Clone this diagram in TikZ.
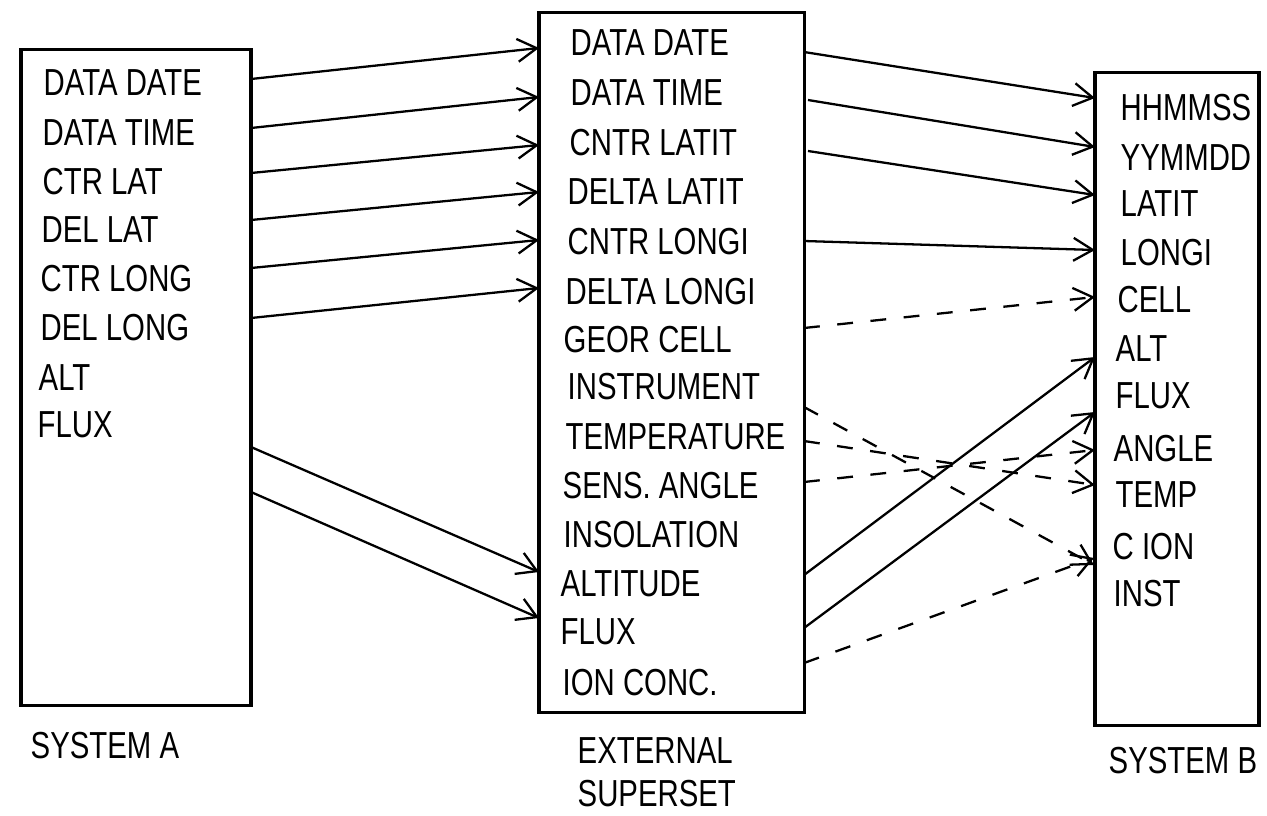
\documentclass[tikz,border=0pt]{standalone}
\usepackage{fontspec}
\setmainfont[FakeStretch=0.78]{Liberation Sans}
\usetikzlibrary{arrows.meta}
\begin{document}
\begin{tikzpicture}[x=0.01cm,y=-0.01cm,
  font=\fontsize{10.7}{12}\selectfont,
  lbl/.style={anchor=base west, inner sep=0pt},
  box/.style={draw, line width=0.9pt, inner sep=0pt},
  link/.style={line width=0.65pt, -{Straight Barb[length=5.5pt,width=6.5pt,line width=0.65pt]}},
  dlink/.style={link, dash pattern=on 4.5pt off 5pt}]
\useasboundingbox (0,0) rectangle (1267,815);

% boxes
\node[box, minimum width=2.30cm, minimum height=6.55cm] (sysA) at (136,377.5) {};
\node[box, minimum width=2.65cm, minimum height=6.99cm] (ext) at (671.5,362.5) {};
\node[box, minimum width=1.64cm, minimum height=6.52cm] (sysB) at (1177,399) {};

% System A rows
\node[lbl] (a1) at (43,95.5) {DATA DATE};
\node[lbl] (a2) at (42,145.5) {DATA TIME};
\node[lbl] (a3) at (42,194.5) {CTR LAT};
\node[lbl] (a4) at (41,242.5) {DEL LAT};
\node[lbl] (a5) at (40,291.5) {CTR LONG};
\node[lbl] (a6) at (40,340.5) {DEL LONG};
\node[lbl] (a7) at (38,390.5) {ALT};
\node[lbl] (a8) at (37,437.5) {FLUX};

% External superset rows
\node[lbl] (e1) at (570,55.5) {DATA DATE};
\node[lbl] (e2) at (570,105.5) {DATA TIME};
\node[lbl] (e3) at (569,155.5) {CNTR LATIT};
\node[lbl] (e4) at (567,204.5) {DELTA LATIT};
\node[lbl] (e5) at (567,254.5) {CNTR LONGI};
\node[lbl] (e6) at (565,304.5) {DELTA LONGI};
\node[lbl] (e7) at (563,352.5) {GEOR CELL};
\node[lbl] (e8) at (567,399.5) {INSTRUMENT};
\node[lbl] (e9) at (565,449.5) {TEMPERATURE};
\node[lbl] (e10) at (562,498.5) {SENS. ANGLE};
\node[lbl] (e11) at (563,547.5) {INSOLATION};
\node[lbl] (e12) at (560,596.5) {ALTITUDE};
\node[lbl] (e13) at (560,644.5) {FLUX};
\node[lbl] (e14) at (562,695.5) {ION CONC.};

% System B rows
\node[lbl] (b1) at (1120,120.5) {HHMMSS};
\node[lbl] (b2) at (1120,170.5) {YYMMDD};
\node[lbl] (b3) at (1120,216.5) {LATIT};
\node[lbl] (b4) at (1120,265.5) {LONGI};
\node[lbl] (b5) at (1117,312.5) {CELL};
\node[lbl] (b6) at (1115,361.5) {ALT};
\node[lbl] (b7) at (1115,408.5) {FLUX};
\node[lbl] (b8) at (1113,461.5) {ANGLE};
\node[lbl] (b9) at (1115,507.5) {TEMP};
\node[lbl] (b10) at (1112,559.5) {C ION};
\node[lbl] (b11) at (1113,606.5) {INST};

% captions
\node[lbl] (capA) at (30,758.5) {SYSTEM A};
\node[lbl] (capE1) at (577,763.5) {EXTERNAL};
\node[lbl] (capE2) at (577,806.5) {SUPERSET};
\node[lbl] (capB) at (1108,773.5) {SYSTEM B};

% connector end points
\coordinate (pa1) at (251,79);  \coordinate (qe1) at (539,48);
\coordinate (pa2) at (251,128); \coordinate (qe2) at (539,97);
\coordinate (pa3) at (251,173); \coordinate (qe3) at (539,145);
\coordinate (pa4) at (251,220); \coordinate (qe4) at (539,192);
\coordinate (pa5) at (251,268); \coordinate (qe5) at (539,240);
\coordinate (pa6) at (251,318); \coordinate (qe6) at (539,288);
\coordinate (pa7) at (251,447); \coordinate (qe12) at (539,572);
\coordinate (pa8) at (251,492); \coordinate (qe13) at (539,618);

\coordinate (pe1) at (804,52);  \coordinate (qb1) at (1095,98);
\coordinate (pe2) at (808,100); \coordinate (qb2) at (1095,147);
\coordinate (pe3) at (808,151); \coordinate (qb3) at (1095,195);
\coordinate (pe5) at (804,241); \coordinate (qb4) at (1095,250);
\coordinate (pe7) at (804,328); \coordinate (qb5) at (1095,297);
\coordinate (pe12) at (804,575); \coordinate (qb6) at (1095,357);
\coordinate (pe13) at (804,628); \coordinate (qb7) at (1095,412);
\coordinate (pe8) at (804,407); \coordinate (qb11) at (1094,565);
\coordinate (pe9) at (804,441); \coordinate (qb9) at (1095,485);
\coordinate (pe10) at (804,482); \coordinate (qb8) at (1095,450);
\coordinate (pe14) at (804,663); \coordinate (qb10) at (1094,558);

% System A -> External
\draw[link] (pa1) -- (qe1);
\draw[link] (pa2) -- (qe2);
\draw[link] (pa3) -- (qe3);
\draw[link] (pa4) -- (qe4);
\draw[link] (pa5) -- (qe5);
\draw[link] (pa6) -- (qe6);
\draw[link] (pa7) -- (qe12);
\draw[link] (pa8) -- (qe13);

% External -> System B
\draw[link] (pe1) -- (qb1);
\draw[link] (pe2) -- (qb2);
\draw[link] (pe3) -- (qb3);
\draw[link] (pe5) -- (qb4);
\draw[dlink] (pe7) -- (qb5);
\draw[link] (pe12) -- (qb6);
\draw[link] (pe13) -- (qb7);
\draw[dlink] (pe8) -- (qb11);
\draw[dlink] (pe9) -- (qb9);
\draw[dlink] (pe10) -- (qb8);
\draw[dlink] (pe14) -- (qb10);
\end{tikzpicture}
\end{document}
